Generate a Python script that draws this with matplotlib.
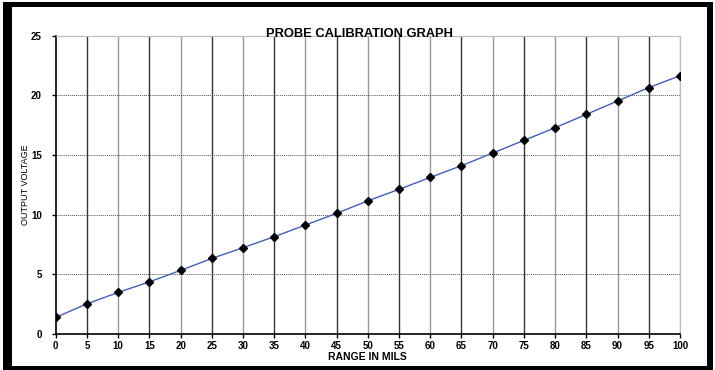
import matplotlib
matplotlib.use("Agg")
import matplotlib.pyplot as plt
from matplotlib.patches import Rectangle

# ── Data ─────────────────────────────────────────────────────────────────────
range_mils = [0, 5, 10, 15, 20, 25, 30, 35, 40, 45, 50,
              55, 60, 65, 70, 75, 80, 85, 90, 95, 100]
output_voltage = [1.40, 2.54, 3.49, 4.38, 5.34, 6.34, 7.24, 8.16, 9.14, 10.12, 11.17,
                  12.13, 13.13, 14.11, 15.17, 16.23, 17.29, 18.41, 19.53, 20.65, 21.65]
x_ticks = list(range(0, 101, 5))
y_ticks = [0, 5, 10, 15, 20, 25]

plt.rcParams["font.family"] = ["Liberation Sans", "DejaVu Sans"]

fig = plt.figure(figsize=(7.15, 3.7), dpi=100)
ax = fig.add_axes([0.078, 0.097, 0.873, 0.8065])

ax.plot(range_mils, output_voltage, color="#3f5fbf", lw=1.0, zorder=3)
ax.plot(range_mils, output_voltage, ls="none", marker="D", ms=4,
        color="black", zorder=4)

ax.set_xlim(0, 100)
ax.set_ylim(0, 25)
ax.set_xticks(x_ticks)
ax.set_yticks(y_ticks)

# vertical grid: solid, alternating dark / light gray
for i, xv in enumerate(x_ticks[1:], start=1):
    ax.axvline(xv, color="#333333" if i % 2 else "#999999", lw=1.0, zorder=1)
# horizontal grid: thin dotted
for yv in y_ticks[1:-1]:
    ax.axhline(yv, color="#555555", lw=0.7, ls=(0, (1, 1)), zorder=1)

for side in ("top", "right"):
    ax.spines[side].set_color("#bbbbbb")
for side in ("left", "bottom"):
    ax.spines[side].set_color("black")
    ax.spines[side].set_linewidth(1.2)

ax.tick_params(axis="both", labelsize=7, length=3, width=1)
ax.tick_params(axis="x", pad=2)
ax.tick_params(axis="y", pad=7)
for lab in ax.get_xticklabels() + ax.get_yticklabels():
    lab.set_fontweight("bold")

ax.set_xlabel("RANGE IN MILS", fontsize=7.5, fontweight="bold", labelpad=1)
ax.set_ylabel("OUTPUT VOLTAGE", fontsize=6.5, labelpad=1)
# title sits right on the top edge of the plot area
ax.text(0.487, 0.994, "PROBE CALIBRATION GRAPH", transform=ax.transAxes,
        ha="center", va="baseline", fontsize=9.3, fontweight="bold", zorder=5)

# ── Thick black outer frame ──────────────────────────────────────────────────
W, H = 715, 370
for (x0, y0, w, h) in [(3, 2, 9, 368), (3, 2, 710, 5), (707, 2, 6, 368), (3, 366, 710, 4)]:
    fig.add_artist(Rectangle((x0 / W, 1 - (y0 + h) / H), w / W, h / H,
                             transform=fig.transFigure, color="black", lw=0))

fig.savefig("out.png", dpi=100)
